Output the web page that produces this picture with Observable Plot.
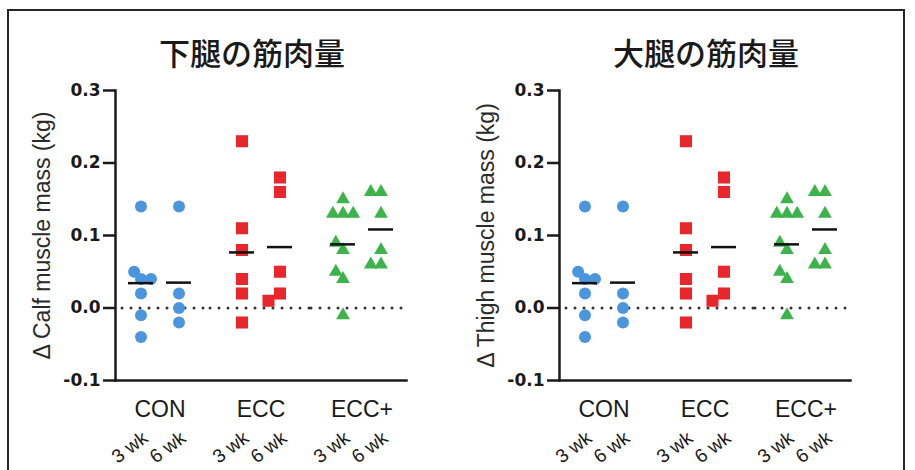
<!DOCTYPE html>
<html><head><meta charset="utf-8">
<script src="https://cdn.jsdelivr.net/npm/d3@7"></script>
<script src="https://cdn.jsdelivr.net/npm/@observablehq/plot@0.6"></script>
<style>
body{margin:0;background:#fff;}
#wrap{position:relative;width:915px;height:470px;overflow:hidden;background:#fff;font-family:"Liberation Sans",Arial,sans-serif;}
#box{position:absolute;left:7px;top:9px;width:894px;height:520px;border:2px solid #262626;}
.title{position:absolute;top:30px;font-family:"Noto Sans CJK JP",sans-serif;font-size:31px;font-weight:500;color:#1a1a1a;transform:translateX(-50%);white-space:nowrap;line-height:44px;}
.panel{position:absolute;top:70px;}
</style></head><body>
<div id="wrap"><div id="box"></div>
<div class="title" id="t1" style="left:252px"></div>
<div class="title" id="t2" style="left:706px"></div>
<div class="panel" id="p1" style="left:0px"></div>
<div class="panel" id="p2" style="left:457px"></div>
</div>
<script>
// ---- data ----
const groups = ["CON", "ECC", "ECC+"];
const weeks = ["3 wk", "6 wk"];
const yTicks = [-0.1, 0, 0.1, 0.2, 0.3];
const titles = ["下腿の筋肉量", "大腿の筋肉量"];
const yLabels = ["Δ Calf muscle mass (kg)", "Δ Thigh muscle mass (kg)"];

// Calf (下腿)
const calfCON3 = [0.14, 0.04, 0.05, 0.04, 0.02, -0.01, -0.04];
const calfCON6 = [0.14, 0.02, 0.00, -0.02];
const calfECC3 = [0.23, 0.11, 0.08, 0.04, 0.02, -0.02];
const calfECC6 = [0.18, 0.16, 0.05, 0.02, 0.01];
const calfECCp3 = [0.15, 0.13, 0.13, 0.13, 0.08, 0.09, 0.04, 0.05, -0.01];
const calfECCp6 = [0.16, 0.16, 0.13, 0.08, 0.06, 0.06];

// Thigh (大腿)
const thighCON3 = [0.14, 0.04, 0.05, 0.04, 0.02, -0.01, -0.04];
const thighCON6 = [0.14, 0.02, 0.00, -0.02];
const thighECC3 = [0.23, 0.11, 0.08, 0.04, 0.02, -0.02];
const thighECC6 = [0.18, 0.16, 0.05, 0.02, 0.01];
const thighECCp3 = [0.15, 0.13, 0.13, 0.13, 0.08, 0.09, 0.04, 0.05, -0.01];
const thighECCp6 = [0.16, 0.16, 0.13, 0.08, 0.06, 0.06];

// ---- styles ----
const colors = ["#4b95dc", "#e8262b", "#3cb44b"];
const symbols = ["circle", "square", "triangle"];
const radii = [6, 6.8, 5.1];
const pads = [-2, 0, 0];
const ink = "#1a1a1a";

function panel(el, series, yLabel, ml, w, mr) {
  const marks = [];
  groups.forEach((g, gi) => {
    marks.push(Plot.ruleY([0], {fx: () => g, stroke: "#333", strokeWidth: 3, strokeDasharray: "0,9",
      strokeLinecap: "round", insetLeft: gi === 0 ? 7 : -6, insetRight: gi === 2 ? 0 : -6}));
  });
  groups.forEach((g, gi) => {
    weeks.forEach((wk, wi) => {
      const vals = series[gi][wi];
      const off = wi === 0 ? -19 : 19;
      marks.push(Plot.dot(vals, Plot.dodgeX({anchor: "middle", padding: pads[gi]},
        {y: d => d, fx: () => g, r: radii[gi], symbol: symbols[gi], fill: colors[gi], dx: off})));
      marks.push(Plot.tickY(vals, Plot.groupZ({y: "mean"},
        {y: d => d, fx: () => g, stroke: "#111", strokeWidth: 2.5,
         insetLeft: wi === 0 ? 13 : 51, insetRight: wi === 0 ? 51 : 13})));
      marks.push(Plot.text([wk], {fx: () => g, text: d => d, frameAnchor: "bottom", dy: 60, dx: off + 8,
        rotate: -37, textAnchor: "end", lineAnchor: "bottom", fontSize: 19, fill: ink}));
    });
  });
  marks.push(Plot.frame({anchor: "left", facet: "super", stroke: ink, strokeWidth: 2.5}));
  marks.push(Plot.frame({anchor: "bottom", facet: "super", stroke: ink, strokeWidth: 2.5}));
  marks.push(Plot.axisY({ticks: yTicks, tickFormat: d => d.toFixed(1), tickSize: 12, tickPadding: 3,
    fontSize: 17, fontWeight: "bold", fontFamily: "DejaVu Sans", strokeWidth: 2.5, label: null, color: ink}));
  marks.push(Plot.axisFx({anchor: "bottom", tickSize: 0, tickPadding: 20, fontSize: 23, label: null, color: ink}));
  marks.push(Plot.text([yLabel], {facet: "super", text: d => d, frameAnchor: "left", textAnchor: "middle",
    dx: -73, rotate: -90, fontSize: 23, fill: "#2a2a2a"}));
  const svg = Plot.plot({
    width: w, height: 400,
    marginLeft: ml, marginRight: mr, marginTop: 20, marginBottom: 90,
    style: {fontFamily: "Liberation Sans, Arial, sans-serif", background: "transparent", overflow: "visible"},
    y: {domain: [-0.1, 0.3]},
    fx: {domain: groups, paddingInner: 0.12, paddingOuter: 0},
    marks
  });
  document.getElementById(el).appendChild(svg);
}

document.getElementById("t1").textContent = titles[0];
document.getElementById("t2").textContent = titles[1];
panel("p1", [[calfCON3, calfCON6], [calfECC3, calfECC6], [calfECCp3, calfECCp6]], yLabels[0], 115, 457, 51);
panel("p2", [[thighCON3, thighCON6], [thighECC3, thighECC6], [thighECCp3, thighECCp6]], yLabels[1], 101, 458, 65);
</script>
</body></html>
